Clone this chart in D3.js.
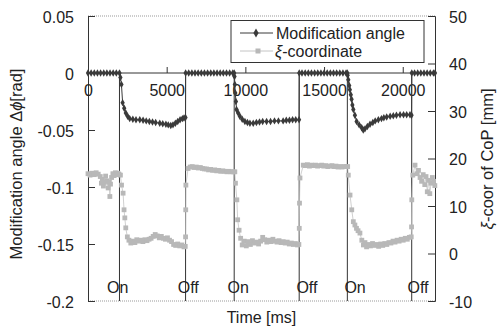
<!DOCTYPE html>
<html>
<head>
  <meta charset="utf-8">
  <style>
    body { margin: 0; background: #fff; }
    svg { font-family: "Liberation Sans", Arial, sans-serif; }
    .tick text { font-size: 16px; fill: #222; }
  </style>
  <script src="https://d3js.org/d3.v7.min.js"></script>
</head>
<body>
<script>
// time [ms] of switching events and their labels
var switchTimes = [2000, 6200, 9290, 13420, 16480, 20570];
var switchLabels = ["On", "Off", "On", "Off", "On", "Off"];
var labelTimes = [1890, 6370, 9550, 13910, 16970, 20970];

var xTicks = [0, 5000, 10000, 15000, 20000];
var leftTicks = [0.05, 0, -0.05, -0.1, -0.15, -0.2];
var leftTickLabels = ["0.05", "0", "-0.05", "-0.1", "-0.15", "-0.2"];
var rightTicks = [50, 40, 30, 20, 10, 0, -10];
var rightTickLabels = ["50", "40", "30", "20", "10", "0", "-10"];

// Modification angle [rad], [t, value]
var angleData = [
  [0,0],[200,0],[400,0],[600,0],[800,0],[1000,0],[1200,0],[1400,0],[1600,0],[1800,0],[2000,0],
  [2060,-0.004],[2125,-0.010],[2200,-0.026],[2300,-0.031],[2400,-0.035],[2520,-0.038],[2650,-0.040],
  [2850,-0.0405],[3050,-0.041],[3290,-0.041],[3500,-0.0415],[3700,-0.042],[3900,-0.0425],[4100,-0.043],
  [4300,-0.0435],[4560,-0.044],[4750,-0.0445],[4950,-0.045],[5100,-0.0455],[5260,-0.046],[5400,-0.0455],
  [5550,-0.044],[5700,-0.0425],[5850,-0.041],[6000,-0.040],[6100,-0.0395],[6195,-0.039],
  [6205,0],[6400,0],[6600,0],[6800,0],[7000,0],[7200,0],[7400,0],[7600,0],[7800,0],[8000,0],
  [8200,0],[8400,0],[8600,0],[8800,0],[9000,0],[9200,0],[9290,0],
  [9310,-0.003],[9330,-0.010],[9360,-0.0175],[9400,-0.025],[9440,-0.032],[9540,-0.035],[9650,-0.038],
  [9800,-0.0405],[9970,-0.0425],[10130,-0.0435],[10290,-0.044],[10500,-0.044],[10700,-0.0435],
  [10900,-0.043],[11100,-0.0425],[11350,-0.0425],[11600,-0.0425],[11850,-0.042],[12100,-0.042],
  [12400,-0.042],[12600,-0.0415],[12800,-0.0415],[13000,-0.041],[13200,-0.041],[13410,-0.041],
  [13425,0],[13600,0],[13800,0],[14000,0],[14200,0],[14400,0],[14600,0],[14800,0],[15000,0],
  [15200,0],[15400,0],[15600,0],[15800,0],[16000,0],[16200,0],[16400,0],[16480,0],
  [16500,-0.002],[16540,-0.006],[16600,-0.011],[16640,-0.0146],[16700,-0.019],[16750,-0.023],
  [16800,-0.028],[16860,-0.032],[16960,-0.037],[17070,-0.0425],[17230,-0.0455],[17390,-0.048],
  [17490,-0.050],[17600,-0.049],[17750,-0.047],[17920,-0.045],[18100,-0.0435],[18250,-0.042],
  [18450,-0.041],[18650,-0.040],[18800,-0.0393],[18980,-0.0386],[19200,-0.038],[19400,-0.0375],
  [19600,-0.037],[19830,-0.0366],[20050,-0.0366],[20250,-0.0366],[20460,-0.0366],[20560,-0.037],
  [20575,0],[20750,0],[20950,0],[21150,0],[21350,0],[21550,0],[21750,0],[21950,0],[22050,0]
];

// xi-coordinate of CoP [mm], [t, value]
var xiData = [
  [0,16.8],[130,16.5],[260,16.9],[390,16.6],[520,17.0],[650,16.7],[780,16.2],[850,14.8],[910,15.6],
  [980,14.2],[1050,15.0],[1120,16.3],[1200,15.3],[1280,13.8],[1350,15.0],[1390,12.0],[1430,14.6],
  [1500,16.0],[1580,16.8],[1660,16.4],[1740,17.0],[1820,16.6],[1900,16.9],[1970,16.7],
  [2060,16.5],[2130,14.4],[2230,12.7],[2290,9.2],[2340,7.5],[2400,5.4],[2500,3.5],
  [2600,2.8],[2720,2.2],[2850,2.6],[2980,2.3],[3100,2.9],[3230,2.6],[3360,2.8],[3490,2.5],[3620,2.9],
  [3750,2.7],[3880,3.0],[4010,3.2],[4140,3.6],[4270,4.0],[4400,3.7],[4530,3.3],[4660,3.6],[4790,3.2],
  [4920,3.0],[5050,3.3],[5180,2.8],[5310,2.5],[5440,1.9],[5570,1.7],[5700,2.0],[5830,1.6],[5960,1.8],
  [6100,1.4],[6180,1.5],
  [6200,3.5],[6210,9.2],[6220,14.4],[6360,17.9],
  [6490,18.2],[6620,18.3],[6750,18.1],[6880,18.2],[7010,18.0],[7140,18.1],[7270,17.9],[7400,17.8],
  [7530,17.8],[7660,17.6],[7790,17.7],[7920,17.5],[8050,17.6],[8180,17.4],[8310,17.5],[8440,17.3],
  [8570,17.4],[8700,17.3],[8830,17.2],[8960,17.3],[9090,17.2],[9220,17.2],
  [9330,17.2],[9370,14.8],[9460,11.3],[9510,7.1],[9600,4.9],[9700,3.2],
  [9800,1.8],[9930,2.6],[10060,1.6],[10190,2.5],[10320,1.9],[10450,2.7],[10580,2.2],[10710,2.4],
  [10840,2.0],[10970,2.6],[11100,3.4],[11230,2.9],[11360,2.4],[11490,2.8],[11620,2.5],[11750,3.0],
  [11880,2.6],[12010,2.4],[12140,2.7],[12270,2.3],[12400,2.5],[12530,2.2],[12660,2.4],[12790,2.0],
  [12920,2.2],[13050,1.9],[13180,2.1],[13310,1.8],[13400,1.9],
  [13425,5.3],[13440,10.6],[13470,15.9],[13680,18.6],
  [13810,18.5],[13940,18.7],[14070,18.4],[14200,18.6],[14330,18.5],[14460,18.6],[14590,18.4],
  [14720,18.5],[14850,18.6],[14980,18.4],[15110,18.5],[15240,18.3],[15370,18.4],[15500,18.5],
  [15630,18.3],[15760,18.4],[15890,18.2],[16020,18.3],[16150,18.2],[16280,18.3],[16410,18.3],
  [16500,18.3],[16540,16.5],[16650,12.3],[16760,9.2],[16860,6.7],[16960,6.0],[17060,5.3],[17160,4.8],
  [17280,4.3],[17400,2.8],[17500,1.8],[17600,2.3],[17700,1.4],[17820,1.9],[17950,1.6],[18080,2.1],
  [18210,1.7],[18340,1.9],[18470,1.5],[18600,2.0],[18730,1.7],[18860,2.1],[18990,1.9],[19120,2.3],
  [19250,2.2],[19380,2.6],[19510,2.4],[19640,2.8],[19770,2.6],[19900,3.0],[20030,2.8],[20160,3.2],
  [20290,3.0],[20420,3.4],[20540,3.5],
  [20560,5.6],[20575,11.3],[20640,16.5],[20780,18.6],
  [20900,16.8],[21000,17.5],[21100,16.0],[21200,15.2],[21300,16.6],[21400,14.5],[21480,16.2],
  [21560,13.0],[21640,15.4],[21720,12.6],[21800,14.8],[21880,16.0],[21960,15.2],[22040,14.3]
];

var W = 499, H = 329;
var margin = {top: 16, right: 64, bottom: 28, left: 88};

var svg = d3.select("body").append("svg")
  .attr("width", W)
  .attr("height", H);

var x = d3.scaleLinear().domain([0, 22050]).range([margin.left, W - margin.right]);
var yL = d3.scaleLinear().domain([-0.2, 0.05]).range([H - margin.bottom, margin.top]);
var yR = d3.scaleLinear().domain([-10, 50]).range([H - margin.bottom, margin.top]);

var dark = "#333";

// dotted top and bottom frame
svg.append("line")
  .attr("x1", x(0)).attr("x2", x(22050))
  .attr("y1", yL(0.05)).attr("y2", yL(0.05))
  .attr("stroke", "#999").attr("stroke-dasharray", "1,1");
svg.append("line")
  .attr("x1", x(0)).attr("x2", x(22050))
  .attr("y1", yL(-0.2)).attr("y2", yL(-0.2))
  .attr("stroke", "#999").attr("stroke-dasharray", "1,1");

// left axis
var leftAxis = svg.append("g")
  .attr("transform", "translate(" + x(0) + ",0)")
  .call(d3.axisLeft(yL).tickValues(leftTicks).tickSize(-7).tickPadding(14)
    .tickFormat(function(d, i) { return leftTickLabels[i]; }));
leftAxis.selectAll(".tick text").attr("dy", "0.4em");

// right axis
var rightAxis = svg.append("g")
  .attr("transform", "translate(" + x(22050) + ",0)")
  .call(d3.axisRight(yR).tickValues(rightTicks).tickSize(-7).tickPadding(14)
    .tickFormat(function(d, i) { return rightTickLabels[i]; }));
rightAxis.selectAll(".tick text").attr("dy", "0.4em");

// x axis along zero line
var xAxis = svg.append("g")
  .attr("transform", "translate(0," + yL(0) + ")")
  .call(d3.axisBottom(x).tickValues(xTicks).tickSize(-6).tickPadding(12).tickFormat(d3.format("d")));
xAxis.select(".domain").attr("d", "M" + x(0) + ",0H" + x(22050));
xAxis.selectAll(".tick line").filter(function(d) { return d === 0; }).remove();

svg.selectAll(".domain, .tick line").attr("stroke", dark);

// switching lines
svg.selectAll(".switch")
  .data(switchTimes)
  .enter().append("line")
  .attr("class", "switch")
  .attr("x1", function(d) { return x(d); })
  .attr("x2", function(d) { return x(d); })
  .attr("y1", yL(0))
  .attr("y2", yL(-0.2))
  .attr("stroke", dark)
  .attr("stroke-width", 1);

// xi-coordinate series
var lineR = d3.line().x(function(d) { return x(d[0]); }).y(function(d) { return yR(d[1]); });
svg.append("path")
  .datum(xiData)
  .attr("d", lineR)
  .attr("fill", "none")
  .attr("stroke", "#c4c4c4")
  .attr("stroke-width", 0.8);
svg.selectAll(".xi")
  .data(xiData)
  .enter().append("rect")
  .attr("class", "xi")
  .attr("x", function(d) { return x(d[0]) - 2.4; })
  .attr("y", function(d) { return yR(d[1]) - 2.4; })
  .attr("width", 4.8)
  .attr("height", 4.8)
  .attr("fill", "#b8b8b8");

// modification angle series
var lineL = d3.line().x(function(d) { return x(d[0]); }).y(function(d) { return yL(d[1]); });
svg.append("path")
  .datum(angleData)
  .attr("d", lineL)
  .attr("fill", "none")
  .attr("stroke", "#3a3a3a")
  .attr("stroke-width", 1);
var diamond = d3.symbol().type(d3.symbolDiamond).size(16);
svg.selectAll(".ang")
  .data(angleData)
  .enter().append("path")
  .attr("class", "ang")
  .attr("d", diamond)
  .attr("transform", function(d) { return "translate(" + x(d[0]) + "," + yL(d[1]) + ")"; })
  .attr("fill", "#3a3a3a");

// On / Off labels
svg.selectAll(".onoff")
  .data(switchLabels)
  .enter().append("text")
  .attr("class", "onoff")
  .attr("x", function(d, i) { return x(labelTimes[i]); })
  .attr("y", 292.5)
  .attr("text-anchor", "middle")
  .attr("font-size", 16)
  .attr("fill", "#222")
  .text(function(d) { return d; });

// legend
var lg = svg.append("g");
lg.append("rect")
  .attr("x", 231).attr("y", 20.5)
  .attr("width", 193).attr("height", 42)
  .attr("fill", "#fff").attr("stroke", dark);
lg.append("line").attr("x1", 240).attr("x2", 273).attr("y1", 33).attr("y2", 33)
  .attr("stroke", "#3a3a3a");
lg.append("path").attr("d", d3.symbol().type(d3.symbolDiamond).size(24))
  .attr("transform", "translate(256,33)").attr("fill", "#3a3a3a");
lg.append("text").attr("x", 276).attr("y", 38.5).attr("font-size", 16).attr("fill", "#222")
  .text("Modification angle");
lg.append("line").attr("x1", 240).attr("x2", 273).attr("y1", 51).attr("y2", 51)
  .attr("stroke", "#c4c4c4");
lg.append("rect").attr("x", 255.5).attr("y", 48.5).attr("width", 5).attr("height", 5)
  .attr("fill", "#b8b8b8");
var t2 = lg.append("text").attr("x", 275).attr("y", 56.5).attr("font-size", 16).attr("fill", "#222");
t2.append("tspan").attr("font-style", "italic").text("ξ");
t2.append("tspan").text("-coordinate");

// axis titles
svg.append("text")
  .attr("x", (x(0) + x(22050)) / 2)
  .attr("y", 323)
  .attr("text-anchor", "middle")
  .attr("font-size", 16)
  .attr("fill", "#222")
  .text("Time [ms]");

var tl = svg.append("text")
  .attr("transform", "translate(22,164) rotate(-90)")
  .attr("text-anchor", "middle")
  .attr("font-size", 16.5)
  .attr("fill", "#222");
tl.append("tspan").text("Modification angle Δ");
tl.append("tspan").attr("font-style", "italic").text("ϕ");
tl.append("tspan").text("[rad]");

var tr = svg.append("text")
  .attr("transform", "translate(493,159) rotate(-90)")
  .attr("text-anchor", "middle")
  .attr("font-size", 16.5)
  .attr("fill", "#222");
tr.append("tspan").attr("font-style", "italic").text("ξ");
tr.append("tspan").text("-coor of CoP [mm]");
</script>
</body>
</html>
